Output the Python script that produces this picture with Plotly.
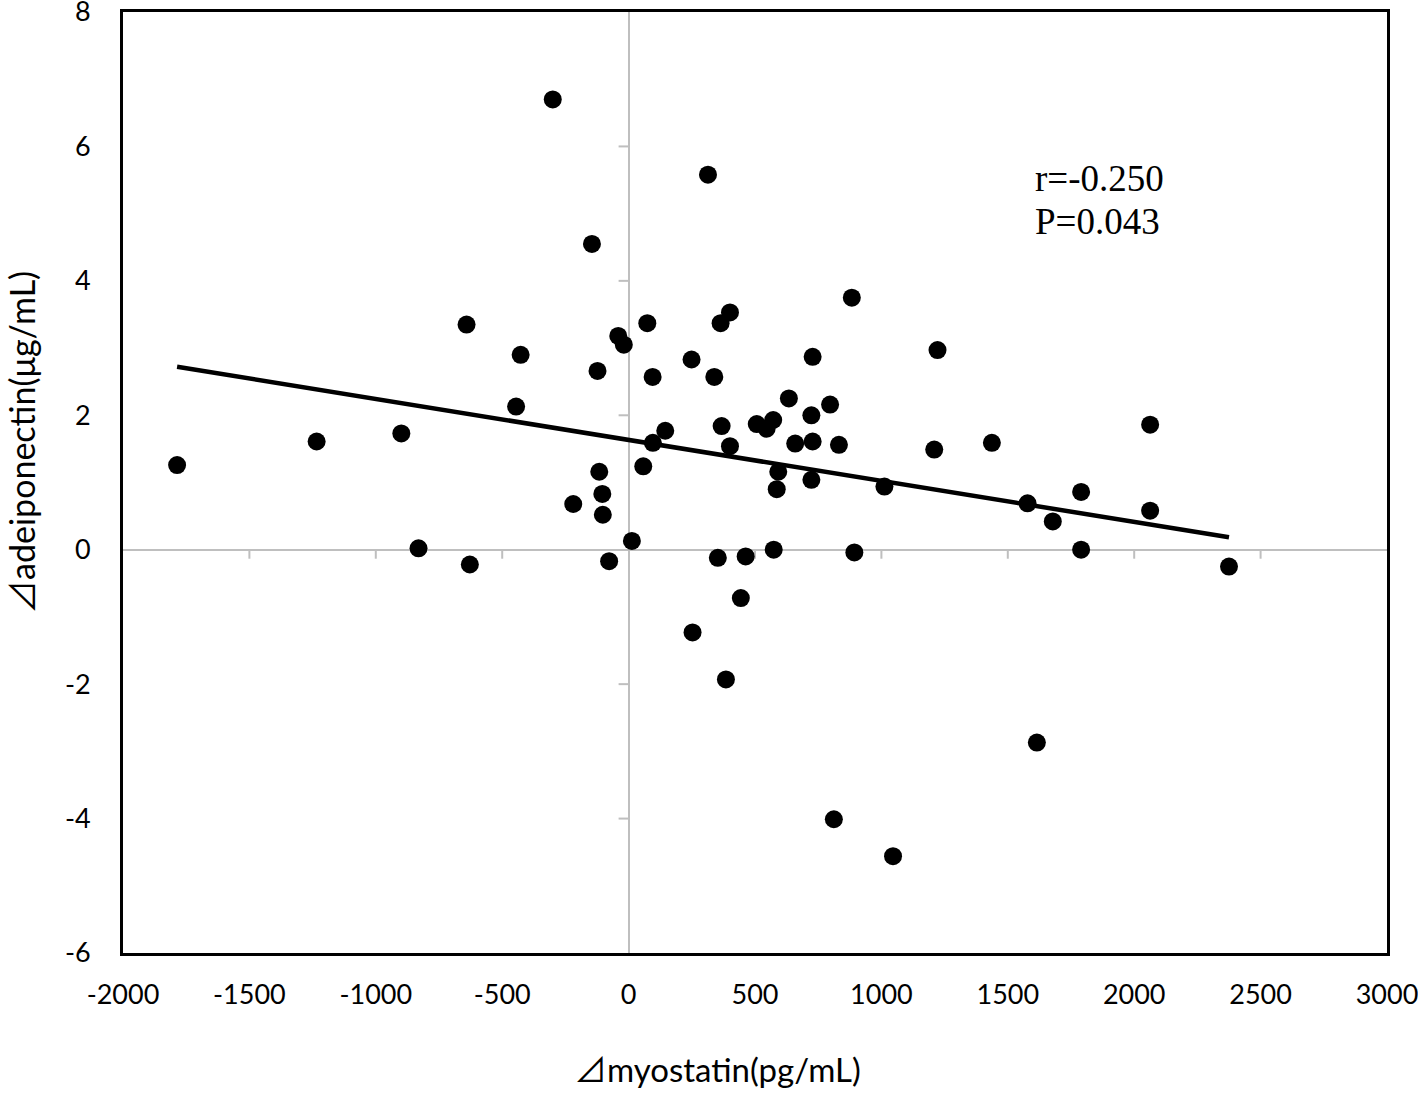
import numpy as np
import plotly.graph_objects as go

# Δmyostatin (pg/mL)
myostatin = [-1786, -1234, -899, -831, -641, -628, -427, -445, -300, -145,
             -123, -219, -116, -104, -102, -77, -41, -19, 13, 58,
             74, 95, 96, 145, 249, 253, 314, 339, 353, 364,
             368, 401, 401, 385, 444, 463, 507, 546, 572, 592,
             586, 574, 634, 659, 728, 723, 728, 723, 797, 832,
             812, 883, 893, 1012, 1046, 1209, 1222, 1437, 1578, 1615,
             1678, 1790, 1790, 2063, 2063, 2375]
# Δadiponectin (µg/mL)
adiponectin = [1.26, 1.61, 1.73, 0.02, 3.35, -0.22, 2.90, 2.13, 6.70, 4.55,
               2.66, 0.68, 1.16, 0.83, 0.52, -0.17, 3.18, 3.05, 0.13, 1.24,
               3.37, 2.57, 1.59, 1.77, 2.83, -1.23, 5.58, 2.57, -0.12, 3.37,
               1.84, 3.53, 1.54, -1.93, -0.72, -0.10, 1.87, 1.80, 1.93, 1.16,
               0.90, 0.00, 2.25, 1.58, 2.87, 2.00, 1.61, 1.04, 2.16, 1.56,
               -4.01, 3.75, -0.04, 0.94, -4.56, 1.49, 2.97, 1.59, 0.69, -2.87,
               0.42, 0.86, 0.00, 1.86, 0.58, -0.25]

x_ticks = [-2000, -1500, -1000, -500, 0, 500, 1000, 1500, 2000, 2500, 3000]
x_ticktext = ["-2000", "-1500", "-1000", "-500", "0", "500", "1000", "1500", "2000", "2500", "3000"]
y_ticks = [-6, -4, -2, 0, 2, 4, 6, 8]
y_ticktext = ["-6", "-4", "-2", "0", "2", "4", "6", "8"]

stats_lines = ["r=-0.250", "P=0.043"]
stats_y = [5.53, 4.88]
x_title = "⊿myostatin(pg/mL)"
y_title = "⊿adeiponectin(μg/mL)"

x = np.array(myostatin, dtype=float)
y = np.array(adiponectin, dtype=float)
slope, intercept = np.polyfit(x, y, 1)
fit_x = np.array([x.min(), x.max()])
fit_y = slope * fit_x + intercept

GREY = "#bfbfbf"
SANS = "Lato, 'Noto Sans CJK JP', 'Open Sans', sans-serif"
SERIF = "'Liberation Serif', 'Times New Roman', serif"
tick_font = dict(family=SANS, size=27, color="black")

fig = go.Figure()
fig.add_trace(go.Scatter(x=myostatin, y=adiponectin, mode="markers",
                         marker=dict(size=18, color="black", line=dict(width=0)),
                         showlegend=False, hoverinfo="x+y"))
fig.add_trace(go.Scatter(x=fit_x, y=fit_y, mode="lines",
                         line=dict(color="black", width=4.5),
                         showlegend=False, hoverinfo="skip"))

shapes = []
for v in x_ticks:
    if v in (0, x_ticks[0], x_ticks[-1]):
        continue
    shapes.append(dict(type="line", xref="x", yref="y", x0=v, x1=v,
                       ysizemode="pixel", yanchor=0, y0=0, y1=-9,
                       line=dict(color=GREY, width=2), layer="below"))
for v in y_ticks:
    if v in (0, y_ticks[0], y_ticks[-1]):
        continue
    shapes.append(dict(type="line", xref="x", yref="y", y0=v, y1=v,
                       xsizemode="pixel", xanchor=0, x0=-10, x1=0,
                       line=dict(color=GREY, width=2), layer="below"))

annotations = []
for line, yy in zip(stats_lines, stats_y):
    annotations.append(dict(text=line, x=1600, y=yy, xref="x", yref="y",
                            xanchor="left", yanchor="middle", showarrow=False,
                            font=dict(family=SERIF, size=37, color="black")))
annotations.append(dict(text=x_title, xref="paper", yref="paper", x=0.4707, y=-0.1235,
                        xanchor="center", yanchor="middle", showarrow=False,
                        font=dict(family=SANS, size=33, color="black")))
annotations.append(dict(text=y_title, xref="paper", yref="paper", x=-0.0802, y=0.5427,
                        xanchor="center", yanchor="middle", textangle=-90, showarrow=False,
                        font=dict(family=SANS, size=34, color="black")))

fig.update_layout(
    width=1418, height=1095,
    margin=dict(l=123, r=31, t=12, b=142),
    paper_bgcolor="white", plot_bgcolor="white",
    shapes=shapes,
    annotations=annotations,
    xaxis=dict(range=[-2000, 3000], tickvals=x_ticks, ticktext=x_ticktext,
               showgrid=False, zeroline=True, zerolinecolor=GREY, zerolinewidth=2,
               showline=True, mirror=True, linecolor="black", linewidth=3,
               ticks="", ticklabelstandoff=16, ticklabeloverflow="allow",
               automargin=False, tickfont=tick_font),
    yaxis=dict(range=[-6, 8], tickvals=y_ticks, ticktext=y_ticktext,
               showgrid=False, zeroline=True, zerolinecolor=GREY, zerolinewidth=2,
               showline=True, mirror=True, linecolor="black", linewidth=3,
               ticks="", ticklabelstandoff=24, ticklabeloverflow="allow",
               automargin=False, tickfont=tick_font),
)

fig.write_html("out.html",
               config={"displayModeBar": False},
               post_script="document.body.style.margin='0';document.body.style.overflow='hidden';")
